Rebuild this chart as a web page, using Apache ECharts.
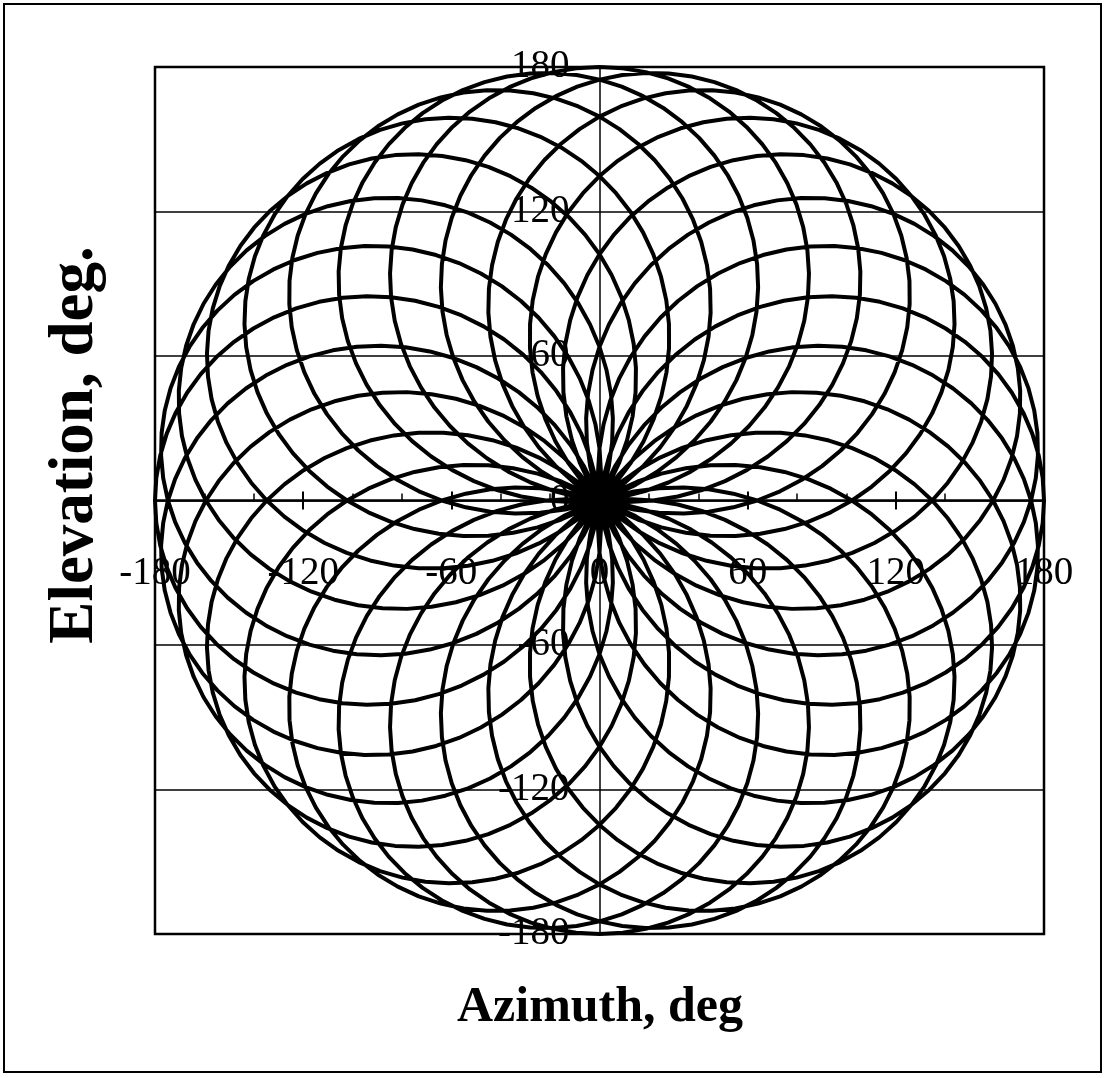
<!DOCTYPE html>
<html>
<head>
    <meta charset="UTF-8">
    <title>rosette scan</title>
    <style>
        html,
        body {
            margin: 0;
            padding: 0;
            background: #fff;
        }
    </style>
</head>
<body>
    <div id="show" style="width: 1106px; height: 1078px;"></div>

    <script src="https://cdn.jsdelivr.net/npm/echarts@6/dist/echarts.min.js"></script>
    <script>
        // axis ranges / ticks, degrees
        var azRange = [-180, 180];
        var elRange = [-180, 180];
        var tickStep = [60];

        // rosette scan: peak radius (deg), petal ratio n/d, trace step (deg)
        var peakDeg = [180];
        var petalRatio = [14, 13];
        var stepDeg = [3];

        var k = petalRatio[0] / petalRatio[1];
        var sweep = 360 * petalRatio[1];   // curve closes after 2*d*pi
        var scan = [];
        for (var a = 0; a <= sweep; a += stepDeg[0]) {
            var t = a * Math.PI / 180;
            var r = peakDeg[0] * Math.cos(k * t);
            scan.push([r * Math.cos(t), r * Math.sin(t)]);
        }

        var serif = '"Liberation Serif", "Times New Roman", serif';
        var black = '#000';

        // plot box in px; axes are pushed in to cross at 0,0
        var box = { left: 155, right: 62, top: 67, bottom: 144 };
        var plotW = 1106 - box.left - box.right;
        var plotH = 1078 - box.top - box.bottom;

        var chart = echarts.init(document.getElementById('show'));
        chart.setOption({
            animation: false,
            backgroundColor: '#fff',
            grid: {
                left: box.left,
                right: box.right,
                top: box.top,
                bottom: box.bottom,
                show: true,
                borderColor: black,
                borderWidth: 2.5,
                backgroundColor: 'transparent',
                z: 3
            },
            xAxis: [{
                type: 'value',
                position: 'bottom',
                offset: -plotH / 2,
                min: azRange[0],
                max: azRange[1],
                interval: tickStep[0],
                axisLine: { onZero: false, lineStyle: { color: black, width: 2.5 } },
                axisTick: { show: true, length: 9, lineStyle: { color: black, width: 2 } },
                axisLabel: { margin: 54, fontFamily: serif, fontSize: 39, color: black },
                splitLine: { show: false }
            }, {
                // upper half of the crossing ticks plus the minor ticks
                type: 'value',
                position: 'top',
                offset: -plotH / 2,
                min: azRange[0],
                max: azRange[1],
                interval: tickStep[0],
                axisLine: { show: false, onZero: false },
                axisTick: { show: true, length: 9, lineStyle: { color: black, width: 2 } },
                minorTick: { show: true, splitNumber: 3, length: 7, lineStyle: { color: black, width: 1.5 } },
                axisLabel: { show: false },
                splitLine: { show: false }
            }],
            yAxis: {
                type: 'value',
                position: 'left',
                offset: -plotW / 2,
                min: elRange[0],
                max: elRange[1],
                interval: tickStep[0],
                axisLine: { onZero: false, lineStyle: { color: black, width: 1.5 } },
                axisTick: { show: false },
                axisLabel: { margin: 30, fontFamily: serif, fontSize: 39, color: black },
                splitLine: { show: true, lineStyle: { color: black, width: 1.5 } }
            },
            series: [{
                type: 'line',
                data: scan,
                showSymbol: false,
                clip: true,
                lineStyle: { color: black, width: 4 },
                z: 1
            }],
            graphic: [{
                type: 'rect',
                shape: { x: 4, y: 4, width: 1097, height: 1068 },
                style: { fill: null, stroke: black, lineWidth: 2 },
                silent: true
            }, {
                type: 'text',
                x: 600,
                y: 1008,
                style: {
                    text: 'Azimuth, deg',
                    font: 'bold 50px ' + serif,
                    fill: black,
                    align: 'center',
                    verticalAlign: 'middle'
                }
            }, {
                type: 'text',
                x: 76,
                y: 445,
                rotation: Math.PI / 2,
                style: {
                    text: 'Elevation, deg.',
                    font: 'bold 63px ' + serif,
                    fill: black,
                    align: 'center',
                    verticalAlign: 'middle'
                }
            }]
        });
    </script>
</body>
</html>
